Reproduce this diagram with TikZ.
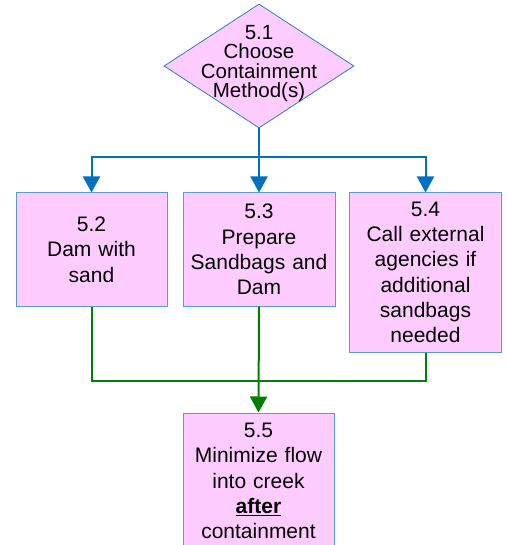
\documentclass[tikz,border=0pt]{standalone}
\usepackage{fontspec}
\setmainfont{Liberation Sans}
\usetikzlibrary{arrows.meta,shapes.geometric}
\definecolor{pinkfill}{RGB}{255,204,255}
\definecolor{boxline}{RGB}{91,155,213}
\definecolor{diamline}{RGB}{46,125,200}
\definecolor{flowblue}{RGB}{0,112,192}
\definecolor{flowgreen}{RGB}{0,128,0}
\begin{document}
\begin{tikzpicture}[x=1pt,y=-1pt,
  box/.style={draw=boxline, line width=1pt, fill=pinkfill, inner sep=0pt,
    text width=150pt, align=center, font=\fontsize{21}{25.3}\selectfont},
  decision/.style={diamond, draw=diamline, line width=0.8pt, fill=pinkfill, inner sep=0pt,
    minimum width=190pt, minimum height=124pt},
  dlabel/.style={align=center, inner sep=0pt, font=\fontsize{20.5}{19.5}\selectfont},
  bluearrow/.style={draw=flowblue, line width=2pt, -{Triangle[width=17pt,length=16pt]}},
  greenline/.style={draw=flowgreen, line width=2pt},
  greenarrow/.style={draw=flowgreen, line width=2pt, -{Triangle[width=17pt,length=16pt]}}]
\useasboundingbox (0,0) rectangle (506,545);
\clip (0,0) rectangle (506,545);

\node[decision] (d) at (259,66) {};
\node[dlabel] (dt) at (259,63.5) {5.1\\Choose\\Containment\\Method(s)};

\node[box, minimum width=151pt, minimum height=113pt] (b2) at (91.5,249.5) {5.2\\Dam with\\sand};
\node[box, minimum width=152pt, minimum height=113pt] (b3) at (259,249.5) {5.3\\Prepare\\Sandbags and\\Dam};
\node[box, minimum width=152pt, minimum height=159pt] (b4) at (425.5,272.5) {5.4\\Call external\\agencies if\\additional\\sandbags\\needed};
\node[box, minimum width=151pt, minimum height=136pt] (b5) at (258.5,481) {5.5\\Minimize flow\\into creek\\\textbf{\underline{after}}\\containment};

\coordinate (split) at (259,157);
\coordinate (merge) at (259,381);

\draw[bluearrow] (d.south) -- (b3.north);
\draw[bluearrow] (split) -| (b2.north);
\draw[bluearrow] (split) -| (b4.north);

\draw[greenline] (b2.south) |- (merge);
\draw[greenline] (b4.south) |- (merge);
\draw[greenarrow] (b3.south) -- (b5.north);
\end{tikzpicture}
\end{document}
